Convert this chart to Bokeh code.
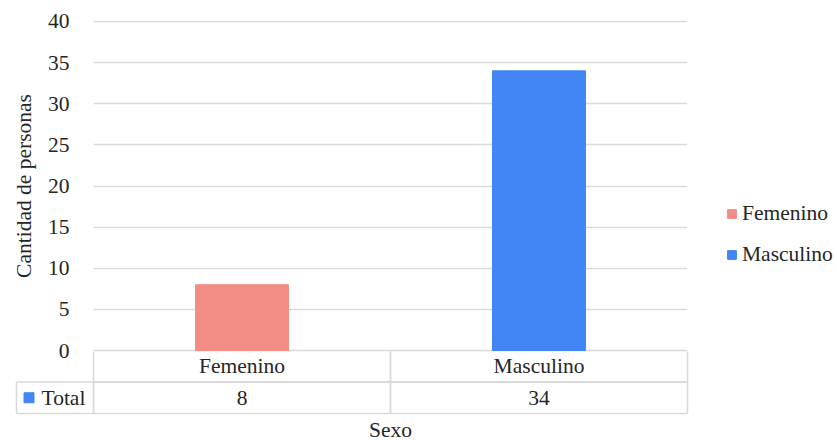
from bokeh.plotting import figure
from bokeh.models import (ColumnDataSource, FactorRange, Range1d, SingleIntervalTicker,
                          FixedTicker, Legend, LegendItem)
from bokeh.embed import file_html
from bokeh.resources import INLINE

# Data
categorias = ["Femenino", "Masculino"]
totales = [8, 34]
colores = ["#F28D85", "#4285F4"]
serie = "Total"
serie_color = "#4285F4"

FONT = "Liberation Serif"
FS = "21.5px"
TXT = "#262626"
GRID = "#D9D9D9"

# Layout (pixels)
W, H = 837, 440
LEFT, PLOT_W, RIGHT = 93, 594, 150
TOP, PLOT_H = 20, 331
CAT_W = PLOT_W / len(categorias)

src = ColumnDataSource(dict(sexo=categorias, total=totales, color=colores))

# ---------------- chart ----------------
p = figure(
    x_range=FactorRange(factors=categorias),
    y_range=Range1d(-0.12, 40.12),
    frame_width=PLOT_W, frame_height=PLOT_H,
    min_border_left=LEFT, min_border_right=RIGHT,
    min_border_top=TOP, min_border_bottom=H - TOP - PLOT_H,
    output_backend="svg", toolbar_location=None,
)
p.outline_line_color = None

bars = p.vbar(x="sexo", top="total", width=0.313, color="color", source=src)

p.xaxis.visible = False
p.xgrid.grid_line_color = None
p.ygrid.grid_line_color = GRID
p.ygrid.grid_line_width = 1.5

p.yaxis.ticker = SingleIntervalTicker(interval=5)
p.yaxis.axis_line_color = None
p.yaxis.major_tick_line_color = None
p.yaxis.minor_tick_line_color = None
p.yaxis.major_label_standoff = 18
p.yaxis.major_label_text_font = FONT
p.yaxis.major_label_text_font_size = FS
p.yaxis.major_label_text_color = TXT
p.yaxis.axis_label = "Cantidad de personas"
p.yaxis.axis_label_text_font = FONT
p.yaxis.axis_label_text_font_size = FS
p.yaxis.axis_label_text_font_style = "normal"
p.yaxis.axis_label_text_color = TXT
p.yaxis.axis_label_standoff = 9

legend = Legend(
    items=[LegendItem(label=c, renderers=[bars], index=i) for i, c in enumerate(categorias)],
    location=(39, 84.5), padding=0, margin=0, spacing=16,
    glyph_width=11, glyph_height=11, label_standoff=5,
    label_text_font=FONT, label_text_font_size=FS, label_text_color=TXT,
    border_line_color=None, background_fill_alpha=0,
)
p.add_layout(legend, "right")

# ---------------- data table (overlaid on the chart's lower border) ----------------
T_LEFT, T_RIGHT = 14, 71          # keeps the axis title centred under the plot
ROW_H = 31.5
T_FRAME_H = 64
T_TOP = TOP + PLOT_H
x0 = (T_LEFT - LEFT) / CAT_W
x1 = len(categorias) + (W - T_RIGHT - LEFT - PLOT_W) / CAT_W
t = figure(
    x_range=Range1d(x0, x1),
    y_range=Range1d((T_FRAME_H + 1) / ROW_H, 1 / ROW_H),
    frame_width=W - T_LEFT - T_RIGHT, frame_height=T_FRAME_H,
    min_border_left=T_LEFT, min_border_right=T_RIGHT,
    min_border_top=0, min_border_bottom=H - T_TOP - T_FRAME_H,
    output_backend="svg", toolbar_location=None,
    background_fill_alpha=0, border_fill_alpha=0,
)
t.styles = {"position": "absolute", "top": f"{T_TOP}px", "left": "0px"}
t.outline_line_color = None
t.grid.grid_line_color = None
t.yaxis.visible = False

n = len(categorias)
idx = list(range(n))
cells = ColumnDataSource(dict(
    left=idx + idx + [(16 - LEFT) / CAT_W],
    right=[i + 1 for i in idx] * 2 + [0],
    top=[0] * n + [1] * n + [1],
    bottom=[1] * n + [2] * n + [2],
))
t.quad(left="left", right="right", top="top", bottom="bottom", source=cells,
       fill_alpha=0, line_color=GRID, line_width=1.5)

tab = ColumnDataSource(dict(
    x=[i + 0.5 for i in idx],
    head=categorias,
    val=[str(v) for v in totales],
))
common = dict(text_font={"value": FONT}, text_font_size=FS, text_color=TXT,
              text_align="center", text_baseline="middle")
t.text(x="x", y=0.5, text="head", source=tab, **common)
t.text(x="x", y=1.5, text="val", source=tab, **common)

# series key in the row header
t.scatter(x=[(28.5 - LEFT) / CAT_W], y=[1.5], marker="square", size=10,
          color=serie_color)
t.text(x=[(41 - LEFT) / CAT_W], y=[1.5], text=[serie], text_font={"value": FONT},
       text_font_size=FS, text_color=TXT, text_align="left", text_baseline="middle")

t.xaxis.ticker = FixedTicker(ticks=[])
t.xaxis.axis_line_color = None
t.xaxis.major_tick_line_color = None
t.xaxis.minor_tick_line_color = None
t.xaxis.major_label_standoff = 0
t.xaxis.axis_label = "Sexo"
t.xaxis.axis_label_text_font = FONT
t.xaxis.axis_label_text_font_size = FS
t.xaxis.axis_label_text_font_style = "normal"
t.xaxis.axis_label_text_color = TXT
t.xaxis.axis_label_standoff = 2

open("out.html", "w").write(file_html([p, t], INLINE))
